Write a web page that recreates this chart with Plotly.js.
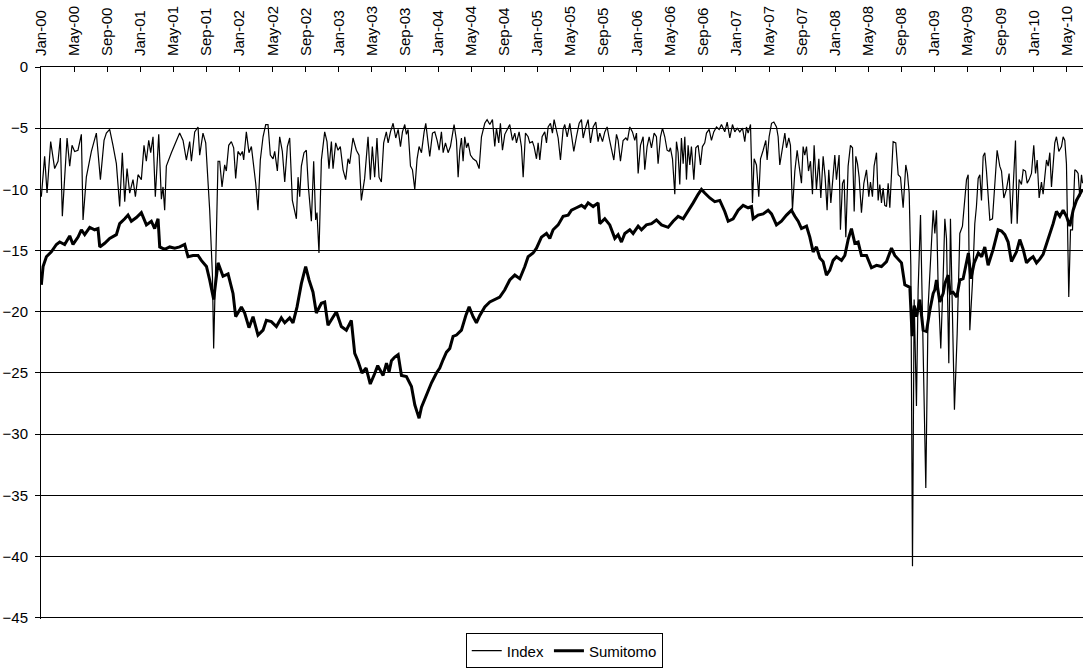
<!DOCTYPE html>
<html>
<head>
<meta charset="utf-8">
<script src="https://cdn.plot.ly/plotly-3.0.1.min.js"></script>
<style>html,body{margin:0;padding:0;background:#fff;}#chart{width:1083px;height:669px;}</style>
</head>
<body>
<div id="chart"></div>
<script>
// x = months since Jan 2000
const tickLabels = ["Jan-00","May-00","Sep-00","Jan-01","May-01","Sep-01","Jan-02","May-02","Sep-02","Jan-03","May-03","Sep-03","Jan-04","May-04","Sep-04","Jan-05","May-05","Sep-05","Jan-06","May-06","Sep-06","Jan-07","May-07","Sep-07","Jan-08","May-08","Sep-08","Jan-09","May-09","Sep-09","Jan-10","May-10"];

const indexMonths = [0.04,0.44,0.73,1.17,1.65,2.06,2.34,2.58,3.15,3.47,3.75,4.07,4.47,4.88,5.08,5.48,6.09,6.69,7.18,7.62,7.9,8.3,8.7,9.11,9.51,9.83,10.12,10.4,10.72,11.12,11.41,11.73,12.13,12.45,12.73,13.02,13.26,13.54,13.82,14.23,14.55,14.75,14.95,15.15,15.76,16.16,16.76,17.17,17.57,17.97,18.18,18.58,18.98,19.18,19.58,19.91,20.19,20.39,20.72,20.87,21.12,21.4,21.6,21.88,22.2,22.4,22.69,23.01,23.29,23.53,23.81,24.1,24.34,24.5,24.82,25.14,25.43,25.95,26.23,26.51,26.84,27.16,27.44,27.72,28.05,28.25,28.57,28.85,29.17,29.46,29.78,30.06,30.38,30.66,30.87,31.07,31.27,31.47,31.79,32.07,32.32,32.68,32.96,33.2,33.36,33.6,33.89,34.29,34.57,34.81,35.1,35.3,35.62,35.9,36.18,36.51,36.83,37.11,37.31,37.71,38.12,38.44,38.72,39.12,39.53,39.81,40.05,40.33,40.61,40.86,41.14,41.42,41.74,41.96,42.24,42.56,42.88,43.17,43.45,43.69,43.97,44.17,44.37,44.66,44.9,45.18,45.46,45.7,45.99,46.31,46.51,46.79,46.99,47.32,47.6,47.88,48.12,48.4,48.61,48.89,49.21,49.49,49.73,49.93,50.22,50.42,50.62,50.82,51.02,51.22,51.43,51.63,51.91,52.23,52.63,52.96,53.24,53.64,53.92,54.25,54.57,54.85,55.05,55.33,55.53,55.78,56.06,56.38,56.66,56.99,57.27,57.47,57.79,58.07,58.28,58.56,58.88,59.08,59.4,59.6,59.89,60.09,60.29,60.57,60.89,61.1,61.3,61.58,61.82,62.02,62.51,62.79,63.11,63.31,63.6,63.92,64.16,64.4,64.72,65.05,65.33,65.53,65.85,66.13,66.42,66.74,67.06,67.34,67.54,67.87,68.15,68.43,68.67,68.95,69.24,69.56,69.76,70.04,70.36,70.69,70.89,71.17,71.49,71.77,71.98,72.18,72.46,72.78,72.98,73.26,73.51,73.79,74.11,74.39,74.59,74.88,75.12,75.4,75.68,75.92,76.08,76.33,76.49,76.61,76.81,77.01,77.21,77.41,77.62,77.82,78.02,78.22,78.42,78.62,78.91,79.15,79.43,79.71,79.95,80.23,80.44,80.76,81.04,81.32,81.65,81.97,82.25,82.65,82.94,83.26,83.58,83.86,84.15,84.47,84.79,85.07,85.27,85.47,85.76,86.0,86.2,86.48,86.76,86.97,87.29,87.61,87.77,88.01,88.3,88.58,88.9,89.1,89.3,89.62,89.91,90.11,90.39,90.59,90.83,91.12,91.4,91.64,91.92,92.12,92.32,92.53,92.77,93.01,93.25,93.45,93.73,94.02,94.26,94.54,94.78,95.02,95.22,95.47,95.75,95.95,96.15,96.47,96.63,96.88,97.08,97.28,97.56,97.84,98.09,98.29,98.49,98.69,98.89,99.17,99.46,99.78,100.06,100.26,100.5,100.7,100.99,101.19,101.39,101.59,101.79,101.99,102.2,102.4,102.6,102.8,103.0,103.32,103.61,103.89,104.21,104.53,104.73,104.94,105.14,105.34,105.54,105.82,106.02,106.31,106.55,106.95,107.23,107.64,107.84,108.04,108.24,108.44,108.76,109.05,109.25,109.45,109.73,109.93,110.17,110.41,110.74,111.06,111.38,111.66,111.87,112.07,112.27,112.59,112.87,113.07,113.28,113.48,113.68,113.88,114.08,114.28,114.69,115.01,115.29,115.57,115.89,116.1,116.38,116.7,117.02,117.3,117.51,117.79,117.99,118.23,118.51,118.72,119.0,119.2,119.44,119.72,120.0,120.21,120.41,120.65,120.93,121.13,121.33,121.54,121.74,121.94,122.14,122.34,122.54,122.74,123.03,123.35,123.55,123.75,123.95,124.23,124.44,124.68,124.96,125.16,125.36,125.56,125.77,125.89];

const indexValues = [-10.6,-7.3,-10.3,-6.1,-8.3,-7.7,-5.8,-12.2,-5.8,-8.1,-6.4,-6.9,-6.8,-5.5,-12.5,-9.0,-6.9,-5.4,-9.2,-6.0,-5.4,-5.1,-6.4,-7.9,-11.4,-7.0,-11.0,-8.3,-10.3,-9.2,-10.6,-8.8,-9.2,-6.4,-7.7,-6.0,-7.0,-5.7,-10.6,-5.5,-10.8,-9.8,-11.7,-8.1,-7.0,-6.4,-5.4,-6.0,-7.6,-6.1,-7.7,-5.3,-4.9,-7.2,-5.4,-6.2,-9.0,-11.7,-17.0,-23.0,-16.0,-7.7,-7.7,-9.8,-8.0,-8.5,-6.4,-6.1,-6.6,-9.1,-6.9,-7.2,-6.9,-7.6,-5.3,-7.0,-6.5,-9.5,-11.7,-7.6,-5.7,-4.7,-4.7,-7.2,-7.5,-6.9,-8.5,-5.7,-6.9,-9.4,-6.5,-5.8,-10.9,-11.7,-12.4,-9.0,-10.6,-8.1,-7.0,-6.8,-9.8,-12.6,-7.7,-12.5,-11.9,-15.2,-7.6,-5.3,-6.1,-8.3,-6.1,-8.3,-6.2,-6.8,-6.5,-8.4,-9.2,-7.5,-7.9,-5.8,-6.8,-7.2,-10.9,-9.1,-5.7,-9.2,-6.5,-9.0,-5.8,-9.0,-9.4,-6.2,-5.3,-6.2,-5.3,-4.6,-5.8,-5.1,-6.5,-5.3,-4.7,-5.5,-5.1,-8.1,-8.4,-10.0,-7.5,-6.5,-7.0,-5.3,-4.6,-6.2,-7.3,-5.4,-5.3,-6.0,-6.8,-5.3,-7.0,-6.2,-7.0,-6.5,-5.4,-4.7,-6.0,-9.0,-6.8,-5.8,-7.7,-5.7,-6.6,-6.2,-7.2,-7.5,-7.7,-8.3,-5.7,-4.6,-4.3,-4.7,-4.3,-6.5,-5.0,-6.2,-4.6,-6.8,-5.5,-5.0,-4.7,-6.0,-5.4,-6.2,-5.3,-6.5,-9.0,-5.4,-5.7,-6.2,-6.1,-6.5,-7.5,-6.2,-7.6,-5.7,-5.3,-6.2,-4.9,-4.6,-5.4,-4.3,-5.8,-7.6,-5.1,-4.7,-5.7,-4.6,-5.7,-6.9,-5.7,-4.6,-4.3,-5.8,-4.9,-4.3,-6.2,-4.9,-4.5,-6.1,-5.4,-6.1,-5.3,-4.9,-5.8,-6.6,-7.6,-5.5,-6.0,-7.7,-6.0,-5.8,-6.0,-4.9,-5.3,-6.0,-5.4,-8.7,-6.4,-5.7,-8.4,-6.5,-5.7,-6.6,-5.4,-5.7,-7.9,-5.7,-5.0,-5.7,-6.8,-6.9,-6.6,-7.5,-9.2,-10.4,-6.1,-7.0,-9.6,-5.8,-7.9,-5.7,-9.2,-6.4,-8.0,-6.5,-9.2,-6.6,-6.4,-8.0,-6.5,-6.2,-5.4,-5.1,-6.0,-5.3,-4.9,-5.1,-4.7,-5.3,-4.5,-5.8,-4.7,-5.3,-5.0,-5.3,-5.0,-6.1,-4.9,-5.4,-4.7,-11.1,-7.5,-8.0,-10.6,-7.5,-6.8,-6.0,-7.6,-5.7,-4.6,-4.5,-4.9,-5.7,-8.0,-6.5,-5.4,-6.6,-5.8,-6.4,-11.7,-8.5,-6.8,-8.1,-9.5,-6.5,-7.2,-6.5,-8.5,-7.7,-10.4,-6.4,-10.0,-7.5,-10.7,-7.3,-9.0,-11.7,-8.4,-11.1,-8.5,-7.2,-9.2,-7.2,-13.3,-9.5,-9.2,-13.9,-8.1,-6.4,-6.6,-11.8,-7.3,-7.9,-9.0,-11.9,-9.5,-8.4,-10.6,-9.4,-10.6,-8.1,-7.0,-10.9,-9.6,-11.1,-9.9,-11.3,-11.4,-9.5,-11.5,-8.1,-6.1,-6.2,-8.8,-9.0,-11.5,-8.0,-8.7,-10.3,-16.3,-40.8,-19.0,-27.7,-18.2,-12.1,-21.8,-34.4,-19.6,-13.6,-11.7,-13.6,-11.7,-17.9,-23.0,-17.1,-12.4,-14.0,-24.2,-12.4,-19.0,-28.0,-21.8,-13.6,-13.0,-10.9,-9.2,-8.8,-21.5,-17.6,-12.8,-11.4,-9.1,-8.8,-10.9,-7.3,-7.0,-8.5,-12.5,-12.4,-9.8,-6.8,-8.1,-8.5,-10.7,-10.0,-8.7,-12.8,-9.8,-6.0,-12.8,-9.2,-9.6,-8.4,-8.5,-9.5,-9.2,-8.7,-6.4,-8.7,-7.6,-10.7,-9.4,-10.4,-9.0,-7.6,-8.1,-7.0,-9.8,-8.1,-6.2,-5.7,-6.9,-6.5,-5.7,-6.0,-7.9,-18.8,-13.3,-13.3,-8.4,-8.5,-8.7,-10.6,-8.8,-9.5];

const sumitomoMonths = [0.04,0.25,0.65,1.25,1.86,2.26,2.86,3.47,3.87,4.48,4.88,5.28,5.89,6.49,6.89,7.1,7.7,8.3,9.11,9.51,10.12,10.52,10.92,11.53,12.13,12.74,13.34,13.74,14.15,14.35,14.95,15.56,16.16,16.76,17.37,17.77,18.38,18.98,19.38,20.0,20.39,20.87,21.4,22.0,22.61,23.21,23.53,24.22,24.62,25.14,25.63,26.23,26.84,27.24,27.84,28.45,29.05,29.46,30.06,30.46,30.95,31.47,31.99,32.4,32.88,33.28,33.89,34.29,34.69,35.3,35.7,36.3,36.91,37.51,37.92,38.3,38.8,39.3,39.8,40.3,40.7,41.35,41.76,42.08,42.36,42.76,43.17,43.57,44.17,44.78,45.18,45.46,45.7,45.99,46.39,46.79,47.2,47.8,48.2,48.61,49.01,49.41,49.81,50.22,50.82,51.35,51.75,52.23,52.63,53.04,53.64,54.25,54.85,55.45,56.06,56.66,57.27,57.87,58.48,58.88,59.48,59.89,60.49,61.1,61.5,61.9,62.51,63.11,63.72,64.12,64.72,65.33,65.73,66.13,66.74,67.34,67.54,68.15,68.75,69.36,69.76,70.16,70.57,71.17,71.57,72.18,72.58,73.18,73.79,74.39,75.0,75.8,76.41,77.01,77.62,78.22,78.83,79.43,79.83,80.23,80.84,81.44,82.05,82.65,83.06,83.66,84.27,84.87,85.47,85.88,86.08,86.68,87.29,87.89,88.3,88.9,89.5,90.11,90.71,91.12,91.52,91.92,92.53,92.93,93.33,93.73,94.14,94.54,94.94,95.35,95.75,96.15,96.76,97.16,97.56,97.96,98.37,98.77,99.17,99.78,100.38,100.99,101.59,102.2,102.8,103.2,103.81,104.01,104.41,105.02,105.3,105.55,105.82,106.22,106.63,107.03,107.43,107.84,108.04,108.24,108.64,109.05,109.25,109.65,109.9,110.25,110.7,111.06,111.46,111.8,112.1,112.4,112.8,113.3,113.7,114.08,114.48,115.09,115.69,116.1,116.5,116.9,117.3,117.91,118.31,118.72,119.12,119.52,119.92,120.33,120.73,121.13,121.54,121.94,122.34,122.74,123.15,123.55,123.95,124.36,124.76,125.16,125.56,125.89];

const sumitomoValues = [-17.8,-16.3,-15.5,-15.1,-14.5,-14.3,-14.5,-13.8,-14.5,-13.9,-13.3,-13.7,-13.1,-13.3,-13.2,-14.7,-14.4,-14.0,-13.7,-12.8,-12.4,-12.1,-12.6,-12.3,-11.9,-12.9,-12.6,-13.2,-12.4,-14.7,-14.9,-14.7,-14.8,-14.7,-14.5,-15.5,-15.4,-15.4,-15.8,-16.3,-17.4,-19.0,-16.0,-17.1,-16.9,-18.5,-20.4,-19.6,-20.1,-21.3,-20.4,-21.9,-21.5,-20.7,-20.8,-21.2,-20.5,-20.9,-20.5,-20.9,-19.6,-17.7,-16.3,-17.4,-18.4,-20.1,-19.3,-19.2,-21.1,-20.4,-20.0,-21.2,-21.5,-20.7,-23.4,-24.0,-25.0,-24.6,-25.9,-25.1,-24.4,-25.2,-24.2,-24.9,-24.0,-23.7,-23.5,-25.2,-25.3,-26.1,-27.6,-28.2,-28.7,-27.8,-27.1,-26.5,-25.8,-25.0,-24.6,-23.9,-23.3,-23.0,-22.0,-21.9,-21.5,-20.3,-19.6,-20.4,-20.9,-20.3,-19.6,-19.2,-19.0,-18.8,-18.2,-17.4,-17.0,-17.3,-16.3,-15.5,-15.2,-14.8,-13.9,-13.6,-14.0,-13.3,-12.9,-12.2,-12.1,-11.7,-11.5,-11.3,-11.5,-11.1,-11.4,-11.1,-12.8,-12.4,-12.9,-14.0,-13.7,-14.3,-13.6,-13.3,-13.6,-13.0,-13.3,-12.9,-12.8,-12.5,-12.9,-13.1,-12.6,-12.2,-12.4,-11.8,-11.1,-10.4,-10.0,-10.3,-10.7,-11.0,-10.9,-11.8,-12.6,-12.4,-11.7,-11.3,-11.5,-11.4,-12.4,-12.1,-12.0,-11.7,-12.0,-12.9,-12.6,-12.1,-11.7,-12.2,-12.6,-13.2,-13.0,-13.9,-15.1,-14.7,-15.6,-15.9,-17.0,-16.6,-15.8,-15.5,-15.8,-15.4,-14.1,-13.2,-14.4,-14.3,-15.4,-15.4,-16.4,-16.2,-16.3,-15.9,-14.8,-15.4,-15.9,-16.0,-17.8,-18.0,-22.0,-19.5,-20.4,-19.0,-21.5,-21.6,-19.9,-18.5,-18.2,-17.4,-19.2,-18.5,-17.7,-17.0,-18.5,-18.4,-18.8,-17.4,-17.3,-16.3,-15.2,-17.3,-16.0,-15.2,-15.5,-14.7,-16.2,-14.9,-13.3,-13.4,-13.7,-14.3,-15.9,-15.1,-14.1,-14.9,-16.0,-15.7,-15.5,-16.0,-15.7,-15.3,-14.5,-13.6,-12.8,-11.8,-12.2,-11.7,-12.2,-13.0,-11.7,-10.9,-10.4,-10.0];

const tickVals = tickLabels.map((_, i) => i * 4);
const FONT = 'Liberation Sans, Arial, Helvetica, sans-serif';

const traces = [
  {x: indexMonths, y: indexValues, type: 'scatter', mode: 'lines', name: 'Index',
   line: {color: '#000', width: 1.2}},
  {x: sumitomoMonths, y: sumitomoValues, type: 'scatter', mode: 'lines', name: 'Sumitomo',
   line: {color: '#000', width: 3}}
];

const layout = {
  width: 1083, height: 669,
  margin: {l: 41, r: 0, t: 67, b: 50, pad: 0, autoexpand: false},
  paper_bgcolor: '#fff', plot_bgcolor: '#fff',
  font: {family: FONT, size: 15, color: '#000'},
  showlegend: true,
  legend: {orientation: 'h', xref: 'container', x: 0.521, xanchor: 'center',
           yref: 'container', y: 0.027, yanchor: 'middle',
           bordercolor: '#000', borderwidth: 1, font: {size: 15, family: FONT},
           itemwidth: 30, tracegroupgap: 0},
  xaxis: {
    side: 'top', range: [0, 125.95], tickmode: 'array', tickvals: tickVals, ticktext: tickLabels,
    tickangle: -90, ticks: 'inside', ticklen: 5, tickcolor: '#000', showline: true,
    linecolor: '#000', linewidth: 1, showgrid: false, zeroline: false,
    ticklabelstandoff: 7, tickfont: {size: 15, family: FONT}
  },
  yaxis: {
    range: [-45.1, 0], dtick: 5, tick0: 0, showgrid: true, gridcolor: '#000', gridwidth: 1,
    showline: true, linecolor: '#000', linewidth: 1, zeroline: false,
    ticks: 'outside', ticklen: 5, tickcolor: '#000', ticklabelstandoff: 4,
    tickfont: {size: 15, family: FONT}
  }
};

Plotly.newPlot('chart', traces, layout, {displayModeBar: false, staticPlot: true});
</script>
</body>
</html>
